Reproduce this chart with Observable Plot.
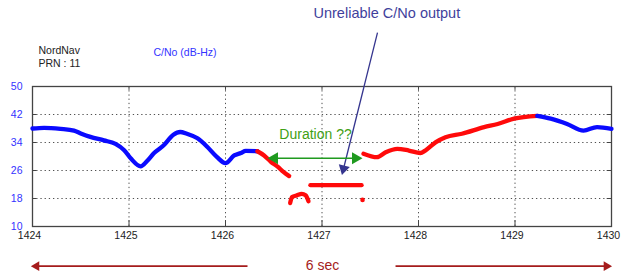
<!DOCTYPE html>
<html>
<head>
<meta charset="utf-8">
<script src="https://cdn.jsdelivr.net/npm/d3@7"></script>
<script src="https://cdn.jsdelivr.net/npm/@observablehq/plot@0.6"></script>
<style>
  html, body { margin: 0; padding: 0; background: #fff; }
  svg { display: block; }
</style>
</head>
<body>
<div id="chart"></div>
<script>
// ---- tick labels ----
const xTicks = [1424, 1425, 1426, 1427, 1428, 1429, 1430];
const yTicks = [10, 18, 26, 34, 42, 50];

// ---- C/No series (time s, dB-Hz) ----
const blueStartT = [1424.00, 1424.12, 1424.29, 1424.43, 1424.50, 1424.60, 1424.74, 1424.86, 1424.95, 1425.02, 1425.12, 1425.19, 1425.26, 1425.36, 1425.46, 1425.53, 1425.60, 1425.71, 1425.81, 1425.91, 1426.00, 1426.09, 1426.16, 1426.21, 1426.33];
const blueStartV = [38.0, 38.2, 37.9, 37.4, 36.6, 35.6, 34.6, 33.6, 31.8, 29.4, 27.2, 28.8, 31.0, 33.2, 36.2, 37.0, 36.5, 35.2, 32.8, 29.9, 28.1, 30.3, 31.0, 31.6, 31.5];

const redFallT = [1426.33, 1426.40, 1426.47, 1426.54, 1426.60, 1426.66];
const redFallV = [31.5, 30.3, 28.5, 27.1, 25.6, 24.4];

const redBlipT = [1426.67, 1426.69, 1426.74, 1426.79, 1426.83, 1426.86];
const redBlipV = [16.7, 18.4, 18.9, 19.3, 18.9, 17.2];

const redFlatT = [1426.88, 1427.05, 1427.25, 1427.41];
const redFlatV = [21.8, 21.8, 21.8, 21.8];

const redDotT = [1427.42];
const redDotV = [17.6];

const redRiseT = [1427.43, 1427.57, 1427.66, 1427.78, 1427.90, 1428.02, 1428.07, 1428.18, 1428.28, 1428.45, 1428.68, 1428.82, 1428.99, 1429.23];
const redRiseV = [30.8, 29.8, 31.2, 32.2, 31.7, 31.0, 31.7, 34.1, 35.5, 36.5, 38.4, 39.3, 40.8, 41.6];

const blueEndT = [1429.23, 1429.37, 1429.54, 1429.71, 1429.85, 1430.00];
const blueEndV = [41.6, 40.8, 39.3, 37.4, 38.4, 37.9];

const BLUE = "#0a0aff", RED = "#ff0a0a";

function seg(name, color, T, V) {
  return T.map((t, i) => ({seg: name, color, t, v: V[i]}));
}
const series = [
  ...seg("b1", BLUE, blueStartT, blueStartV),
  ...seg("r1", RED, redFallT, redFallV),
  ...seg("r2", RED, redBlipT, redBlipV),
  ...seg("r3", RED, redFlatT, redFlatV),
  ...seg("r4", RED, redRiseT, redRiseV),
  ...seg("b2", BLUE, blueEndT, blueEndV)
];
const dots = seg("d", RED, redDotT, redDotV);

// ---- annotations (data coordinates) ----
const headerTexts = [
  {text: "NordNav", t: 1424.062, v: 60.3, color: "#222"},
  {text: "PRN : 11", t: 1424.062, v: 56.6, color: "#222"},
  {text: "C/No (dB-Hz)", t: 1425.254, v: 59.7, color: "#3333ff"}
];
const unreliable = {text: "Unreliable C/No output", t: 1426.912, v: 70.9};
const pointer = {t1: 1427.575, v1: 65.4, t2: 1427.223, v2: 26.5, tipT: 1427.223, tipV: 26.5};
const duration = {text: "Duration ??", t: 1426.933, v: 36.3, tl: 1426.508, tr: 1427.347, v2: 29.5};
const span = {text: "6 sec", t: 1427.005, v: -1.14, la: 1426.228, lb: 1424.041, ra: 1427.762, rb: 1429.948, va: -1.34};

const xGrid = [1425, 1426, 1427, 1428, 1429];
const yGrid = [18, 26, 34, 42];

const chart = Plot.plot({
  width: 621,
  height: 274,
  marginLeft: 32,
  marginRight: 10,
  marginTop: 86,
  marginBottom: 48,
  x: {domain: [1424, 1430], axis: null},
  y: {domain: [10, 50], axis: null},
  color: {type: "identity"},
  style: {fontFamily: "'Liberation Sans', Arial, sans-serif", background: "#fff", overflow: "visible"},
  marks: [
    Plot.gridX(xGrid, {stroke: "#333", strokeOpacity: 0.85, strokeDasharray: "1.3,2.9", strokeWidth: 1}),
    Plot.gridY(yGrid, {stroke: "#333", strokeOpacity: 0.85, strokeDasharray: "1.3,2.9", strokeWidth: 1}),
    Plot.ruleX(xGrid, {x: d => d, y1: 50, y2: 48.9, stroke: "#444"}),
    Plot.ruleX(xGrid, {x: d => d, y1: 10, y2: 11.7, stroke: "#444"}),
    Plot.ruleY(yGrid, {y: d => d, x1: 1430, x2: 1429.955, stroke: "#444"}),
    Plot.ruleY(yGrid, {y: d => d, x1: 1424, x2: 1424.045, stroke: "#444"}),
    Plot.frame({stroke: "#444", strokeWidth: 1.3}),
    Plot.axisX(xTicks, {tickSize: 0, tickPadding: 5, fontSize: 10.5, fill: "#222", dx: -3, tickFormat: d => String(d), label: null}),
    Plot.axisY(yTicks, {tickSize: 0, tickPadding: 10, fontSize: 10.5, fill: "#3333ff", label: null}),
    Plot.line(series, {x: "t", y: "v", z: "seg", stroke: "color", strokeWidth: 4.3, curve: "monotone-x", strokeLinecap: "round", strokeLinejoin: "round"}),
    Plot.dot(dots, {x: "t", y: "v", r: 2.3, fill: "color"}),
    // header texts
    Plot.text(headerTexts, {x: "t", y: "v", text: "text", fill: "color", textAnchor: "start", fontSize: 10.5}),
    // unreliable annotation
    Plot.text([unreliable], {x: "t", y: "v", text: "text", fill: "#3f3f9c", textAnchor: "start", fontSize: 14.5}),
    Plot.link([pointer], {x1: "t1", y1: "v1", x2: "t2", y2: "v2", stroke: "#34348e", strokeWidth: 1.3}),
    Plot.dot([pointer], {x: "tipT", y: "tipV", symbol: "triangle", r: 4.2, fill: "#34348e", rotate: 194}),
    // duration annotation
    Plot.text([duration], {x: "t", y: "v", text: "text", fill: "#3fa014", fontSize: 14}),
    Plot.link([duration], {x1: "tl", y1: "v2", x2: "tr", y2: "v2", stroke: "#1f9a1f", strokeWidth: 1.6}),
    Plot.dot([duration], {x: "tl", y: "v2", symbol: "triangle", r: 4.5, fill: "#1f9a1f", rotate: 270}),
    Plot.dot([duration], {x: "tr", y: "v2", symbol: "triangle", r: 4.5, fill: "#1f9a1f", rotate: 90}),
    // 6 sec span
    Plot.text([span], {x: "t", y: "v", text: "text", fill: "#a51c1c", fontSize: 14}),
    Plot.link([span], {x1: "la", y1: "va", x2: "lb", y2: "va", stroke: "#a51c1c", strokeWidth: 1.8}),
    Plot.link([span], {x1: "ra", y1: "va", x2: "rb", y2: "va", stroke: "#a51c1c", strokeWidth: 1.8}),
    Plot.dot([span], {x: "lb", y: "va", symbol: "triangle", r: 3.6, fill: "#a51c1c", rotate: 270}),
    Plot.dot([span], {x: "rb", y: "va", symbol: "triangle", r: 3.6, fill: "#a51c1c", rotate: 90})
  ]
});
document.getElementById("chart").appendChild(chart);
</script>
</body>
</html>
